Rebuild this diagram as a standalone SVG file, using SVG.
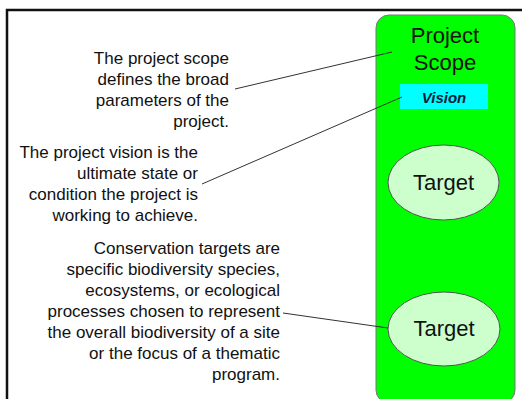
<svg xmlns="http://www.w3.org/2000/svg" width="522" height="399" viewBox="0 0 522 399">
<style>
.t{font-family:"Liberation Sans",Arial,sans-serif;font-size:17px;fill:#111;text-anchor:end}
.n{font-family:"Liberation Sans",Arial,sans-serif;font-size:22px;fill:#111;text-anchor:middle}
.c{stroke:#333;stroke-width:1;fill:none}
.tg{fill:#ccffcc;stroke:#555;stroke-width:1}
</style>
<rect x="0" y="0" width="522" height="399" fill="#fff"/>
<path d="M7 402 V10 H524" fill="none" stroke="#111" stroke-width="2.5"/>
<g id="scope">
<rect x="376" y="15" width="139" height="388" rx="13" fill="#00ff00" stroke="#777" stroke-width="1"/>
<text class="n" x="445" y="43">Project</text>
<text class="n" x="445" y="70">Scope</text>
</g>
<g id="vision">
<rect x="400" y="84" width="88" height="25" fill="#00ffff"/>
<text x="444" y="103" font-family="'Liberation Sans',Arial,sans-serif" font-size="15" font-weight="bold" font-style="italic" fill="#0a1a3a" text-anchor="middle">Vision</text>
</g>
<g id="target1">
<ellipse class="tg" cx="443.5" cy="182.5" rx="55.5" ry="37.5"/>
<text class="n" x="443.5" y="190">Target</text>
</g>
<g id="target2">
<ellipse class="tg" cx="444" cy="329" rx="56" ry="37"/>
<text class="n" x="444" y="336">Target</text>
</g>
<g id="note-scope">
<text class="t" x="229" y="64">The project scope</text>
<text class="t" x="229" y="85">defines the broad</text>
<text class="t" x="229" y="106">parameters of the</text>
<text class="t" x="229" y="127">project.</text>
</g>
<g id="note-vision">
<text class="t" x="198" y="158">The project vision is the</text>
<text class="t" x="198" y="179">ultimate state or</text>
<text class="t" x="198" y="200">condition the project is</text>
<text class="t" x="198" y="221">working to achieve.</text>
</g>
<g id="note-targets">
<text class="t" x="280" y="254">Conservation targets are</text>
<text class="t" x="280" y="275">specific biodiversity species,</text>
<text class="t" x="280" y="296">ecosystems, or ecological</text>
<text class="t" x="280" y="317">processes chosen to represent</text>
<text class="t" x="280" y="338">the overall biodiversity of a site</text>
<text class="t" x="280" y="359">or the focus of a thematic</text>
<text class="t" x="280" y="380">program.</text>
</g>
<g id="connectors">
<line class="c" x1="235" y1="89" x2="392" y2="52"/>
<line class="c" x1="202" y1="184" x2="402" y2="97"/>
<line class="c" x1="283" y1="313" x2="388" y2="328"/>
</g>
</svg>
